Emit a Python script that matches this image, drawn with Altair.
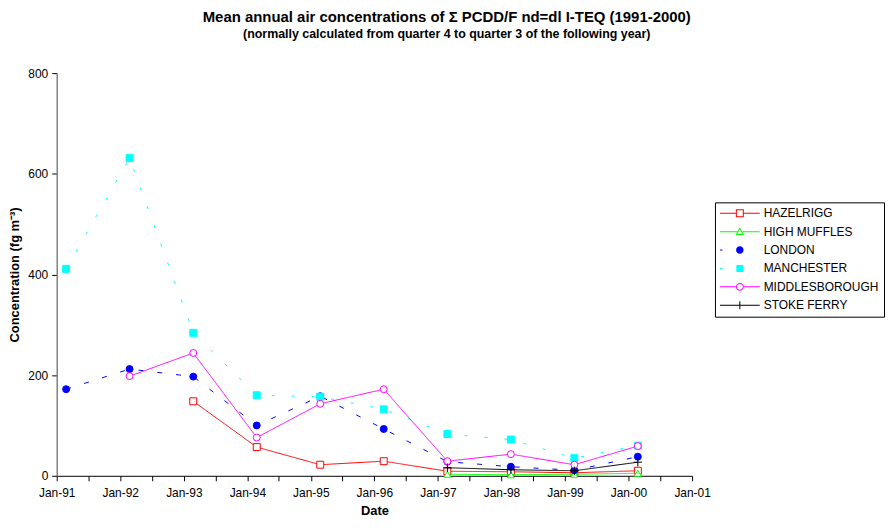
import altair as alt
import pandas as pd

SERIES = ["HAZELRIGG", "HIGH MUFFLES", "LONDON", "MANCHESTER", "MIDDLESBOROUGH", "STOKE FERRY"]
DATES = ["1991-02-24", "1992-02-24", "1993-02-24", "1994-02-24", "1995-02-24",
         "1996-02-24", "1997-02-24", "1998-02-24", "1999-02-24", "2000-02-24"]
HAZELRIGG = [None, None, 148, 57, 22, 29, 9, 8, 6, 10]
HIGH_MUFFLES = [None, None, None, None, None, None, 3, 2, 3, 5]
LONDON = [172, 212, 197, 100, 158, 93, 28, 18, 11, 38]
MANCHESTER = [411, 631, 284, 160, 157, 132, 83, 72, 35, 60]
MIDDLESBOROUGH = [None, 198, 244, 76, 143, 172, 29, 43, 22, 59]
STOKE_FERRY = [None, None, None, None, None, None, 16, 12, 10, 27]
VALUES = [HAZELRIGG, HIGH_MUFFLES, LONDON, MANCHESTER, MIDDLESBOROUGH, STOKE_FERRY]

COLORS = ["#FF0000", "#00FF00", "#0000FF", "#00FFFF", "#FF00FF", "#000000"]
FILLS = ["#FFFFFF", "#FFFFFF", "#0000FF", "#00FFFF", "#FFFFFF", "#000000"]
DASHES = [[1, 0], [1, 0], [5, 14], [3, 17], [1, 0], [1, 0]]
SHAPES = ["square", "triangle-up", "circle", "square", "circle", "M-1.2,0H1.2M0,-1.2V1.2"]
# legend glyphs (line + marker), drawn as filled outlines
LEGEND_PATHS = [
    "M-4,-0.1H-0.8V0.1H-4Z M0.8,-0.1H4V0.1H0.8Z M-0.8,-0.8H0.8V0.8H-0.8Z M-0.6,-0.6V0.6H0.6V-0.6Z",
    "M-4,-0.1H-0.45V0.1H-4Z M0.45,-0.1H4V0.1H0.45Z M0,-0.9L0.85,0.65H-0.85Z M0,-0.48L-0.51,0.45H0.51Z",
    "M-4,-0.1H-3.5V0.1H-4Z M0.75,0A0.75,0.75 0 1 1 -0.75,0A0.75,0.75 0 1 1 0.75,0Z",
    "M-4,-0.1H-3.5V0.1H-4Z M-0.7,-0.7H0.7V0.7H-0.7Z",
    "M-4,-0.1H-0.8V0.1H-4Z M0.8,-0.1H4V0.1H0.8Z M0.8,0A0.8,0.8 0 1 1 -0.8,0A0.8,0.8 0 1 1 0.8,0Z M0.6,0A0.6,0.6 0 1 0 -0.6,0A0.6,0.6 0 1 0 0.6,0Z",
    "M-4,-0.1H4V0.1H-4Z M-0.1,-0.8H0.1V0.8H-0.1Z",
]

rows = []
for name, vals in zip(SERIES, VALUES):
    for d, v in zip(DATES, vals):
        if v is not None:
            rows.append({"date": d, "series": name, "value": v})
df = pd.DataFrame(rows)

FONT = "Liberation Sans"

tick_values = []
for y in range(1991, 2002):
    tick_values.append(alt.DateTime(year=y, month=1, date=1, utc=True))
    if y < 2001:
        tick_values.append(alt.DateTime(year=y, month=7, date=1, utc=True))

x_enc = alt.X(
    "date:T",
    scale=alt.Scale(type="utc", nice=False,
                    domain=[alt.DateTime(year=1991, month=1, date=1, utc=True),
                            alt.DateTime(year=2001, month=1, date=1, utc=True)]),
    axis=alt.Axis(values=tick_values,
                  labelExpr="utcmonth(datum.value) == 0 ? utcFormat(datum.value, '%b-%y') : ''",
                  title="Date", grid=False, domainColor="#000000", tickColor="#000000",
                  tickSize=5, labelPadding=7, labelFont=FONT, labelFontSize=12,
                  labelColor="#000000", titleFont=FONT, titleFontSize=13,
                  titleFontWeight="bold", titleColor="#000000", titlePadding=6,
                  labelFlush=False, labelOverlap=False),
)
y_enc = alt.Y(
    "value:Q",
    scale=alt.Scale(domain=[0, 800], nice=False),
    axis=alt.Axis(values=[0, 200, 400, 600, 800], title="Concentration (fg m\u207b\u00b3)",
                  grid=False, domainColor="#808080", domainWidth=1.5, tickColor="#000000",
                  tickSize=5, labelPadding=4, labelFont=FONT, labelFontSize=12,
                  labelColor="#000000", titleFont=FONT, titleFontSize=13,
                  titleFontWeight="bold", titleColor="#000000", titlePadding=6),
)

base = alt.Chart(df)

layers = []
for name, col, fil, shp, dash in zip(SERIES, COLORS, FILLS, SHAPES, DASHES):
    sub = base.transform_filter(alt.datum.series == name)
    layers.append(
        sub.mark_line(strokeWidth=1, stroke=col, strokeDash=dash)
        .encode(x=x_enc, y=y_enc, order=alt.Order("date:T"))
    )
    layers.append(
        sub.mark_point(strokeWidth=1, opacity=1, size=49, shape=shp, stroke=col, fill=fil, filled=True)
        .encode(x=x_enc, y=y_enc)
    )

legend_def = alt.Legend(title=None, orient="none", legendX=662, legendY=130,
                        strokeColor="#000000", fillColor="#FFFFFF", padding=5,
                        labelFont=FONT, labelFontSize=12, labelColor="#000000",
                        symbolSize=100, symbolStrokeWidth=0, symbolOpacity=1,
                        symbolOffset=14, labelOffset=18, rowPadding=6.5, cornerRadius=0)

# legend-only layer: its marks sit outside the plot and are clipped away
legend_layer = base.mark_point(filled=True, opacity=1, size=100, clip=True).encode(
    x=alt.value(-300), y=alt.value(-300),
    color=alt.Color("series:N", scale=alt.Scale(domain=SERIES, range=COLORS), legend=legend_def),
    shape=alt.Shape("series:N", scale=alt.Scale(domain=SERIES, range=LEGEND_PATHS), legend=legend_def),
)

chart = alt.layer(*layers, legend_layer).properties(
    width=639, height=405, padding=0,
    title=alt.TitleParams(
        text="Mean annual air concentrations of \u03a3 PCDD/F nd=dl I-TEQ  (1991-2000)",
        subtitle="(normally calculated from quarter 4 to quarter 3 of the following year)",
        font=FONT, fontSize=15, fontWeight="bold", color="#000000",
        subtitleFont=FONT, subtitleFontSize=12.5, subtitleFontWeight="bold",
        subtitleColor="#000000", subtitlePadding=3, anchor="middle", frame="bounds",
        offset=27,
    ),
).configure_view(stroke=None)

chart.save("out.html", embed_options={"renderer": "svg", "actions": False})
